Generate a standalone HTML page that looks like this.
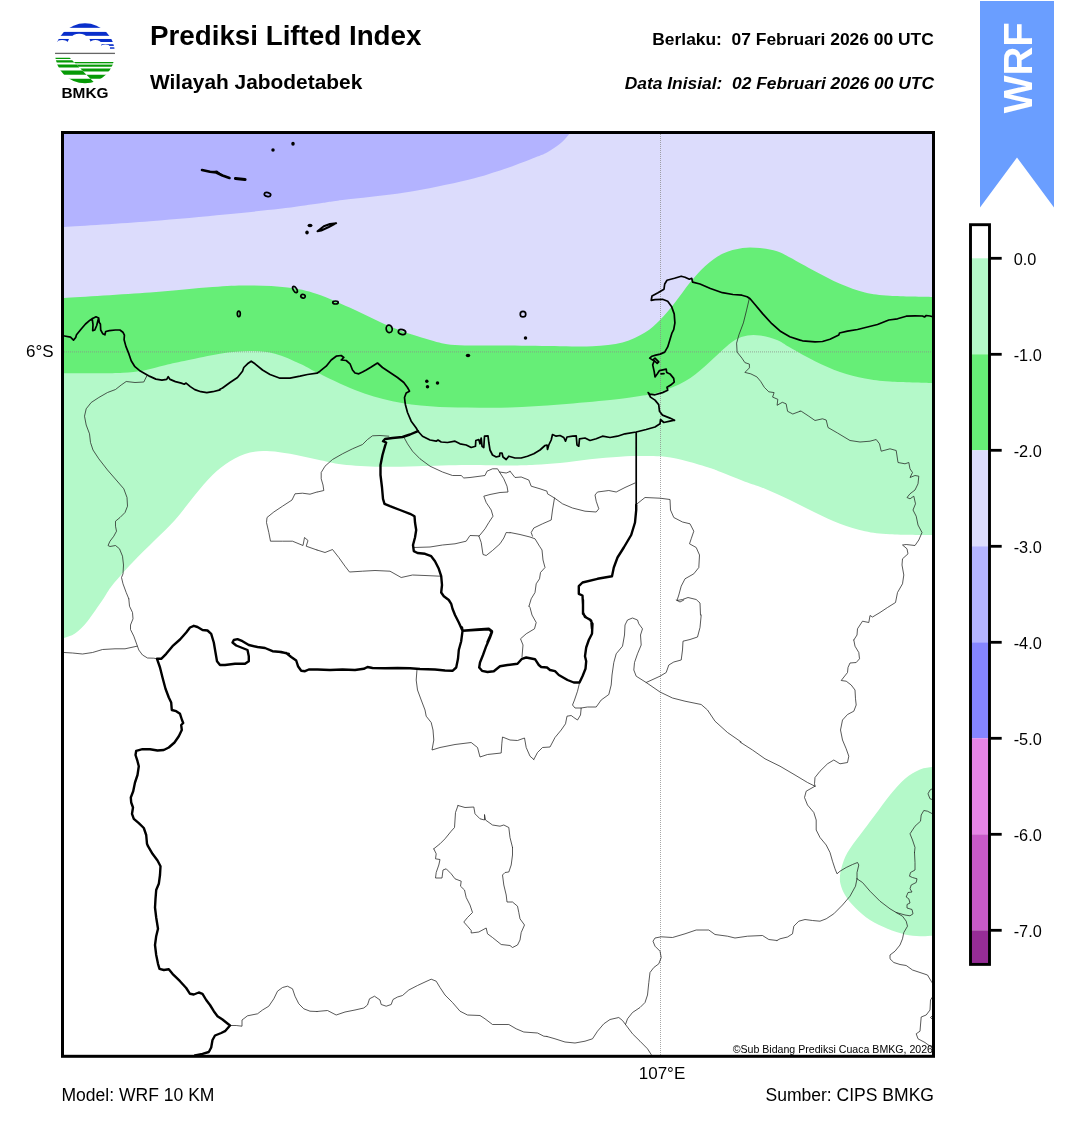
<!DOCTYPE html>
<html><head><meta charset="utf-8"><title>Prediksi Lifted Index</title>
<style>
html,body{margin:0;padding:0;background:#fff;}
body{width:1068px;height:1128px;overflow:hidden;position:relative;font-family:"Liberation Sans",Arial,sans-serif;}
svg{position:absolute;left:0;top:0;}
text{font-family:"Liberation Sans",Arial,sans-serif;fill:#000;}
.cbl{font-size:16.3px;}
.t1{font-size:27.75px;font-weight:bold;}
.t2{font-size:20.9px;font-weight:bold;}
.t3{font-size:17.42px;font-weight:bold;}
.t4{font-size:17.4px;font-weight:bold;font-style:italic;}
.ax{font-size:17px;}
.ft{font-size:17.55px;}
.cr{font-size:10.6px;}
.wrf{font-size:40px;font-weight:bold;fill:#fff;}
.bm{font-size:15.4px;font-weight:bold;}
</style></head><body>
<svg width="1068" height="1128" viewBox="0 0 1068 1128">
<defs><clipPath id="mapclip"><rect x="62.5" y="132.5" width="871" height="923.8"/></clipPath></defs>
<g clip-path="url(#mapclip)">
<rect x="62.5" y="132.5" width="871" height="923.8" fill="#dcdcfc"/>
<path d="M58.0,227.3 C59.0,227.2 48.7,228.0 64.0,227.0 C79.3,226.0 123.2,223.3 150.0,221.2 C176.8,219.2 203.3,216.6 225.0,214.5 C246.7,212.4 264.7,210.5 280.0,208.8 C295.3,207.0 306.6,205.2 317.0,203.8 C327.4,202.3 327.8,201.9 342.5,200.0 C357.2,198.1 384.2,195.8 405.0,192.5 C425.8,189.2 450.8,184.0 467.5,180.0 C484.2,176.0 493.8,172.5 505.0,168.8 C516.2,165.0 528.0,160.2 535.0,157.5 C542.0,154.8 542.8,154.8 547.0,152.5 C551.2,150.2 556.4,146.8 560.0,143.8 C563.6,140.8 566.9,136.8 568.8,134.5 C570.6,132.2 570.6,130.8 571.0,130.0 L60,130 Z" fill="#b3b3ff"/>
<path d="M58.0,298.3 C59.0,298.2 48.7,299.0 64.0,298.0 C79.3,297.0 125.2,294.3 150.0,292.5 C174.8,290.7 195.8,288.2 212.5,287.0 C229.2,285.8 237.5,285.4 250.0,285.5 C262.5,285.6 276.3,286.1 287.5,287.5 C298.7,288.9 305.8,290.2 317.0,294.0 C328.2,297.8 342.4,304.4 355.0,310.0 C367.6,315.6 380.0,322.5 392.5,327.5 C405.0,332.5 419.6,337.1 430.0,340.0 C440.4,342.9 442.5,344.1 455.0,345.0 C467.5,345.9 487.5,345.3 505.0,345.5 C522.5,345.7 545.4,346.1 560.0,346.2 C574.6,346.4 582.1,346.9 592.5,346.2 C602.9,345.6 613.8,344.8 622.5,342.5 C631.2,340.2 638.8,336.2 645.0,332.5 C651.2,328.8 655.0,325.0 660.0,320.0 C665.0,315.0 670.0,308.8 675.0,302.5 C680.0,296.2 685.0,288.5 690.0,282.5 C695.0,276.5 699.6,271.0 705.0,266.2 C710.4,261.5 716.2,256.8 722.5,253.8 C728.8,250.7 736.2,249.0 742.5,248.0 C748.8,247.0 754.2,247.5 760.0,248.0 C765.8,248.5 772.0,249.7 777.0,251.2 C782.0,252.8 783.7,254.2 790.0,257.5 C796.3,260.8 806.7,266.9 815.0,271.2 C823.3,275.6 831.7,280.2 840.0,283.8 C848.3,287.3 856.7,290.5 865.0,292.5 C873.3,294.5 878.8,295.0 890.0,295.8 C901.2,296.5 924.5,296.8 932.5,297.0 C940.5,297.2 937.1,297.0 938.0,297.0 L937,1060 L60,1060 Z" fill="#66ee77"/>
<path d="M58.0,373.2 C59.0,373.2 57.0,373.2 64.0,373.2 C71.0,373.2 90.2,373.3 100.0,373.2 C109.8,373.1 115.7,373.2 123.0,372.7 C130.3,372.2 137.0,371.6 144.0,370.4 C151.0,369.1 157.8,366.9 165.0,365.2 C172.2,363.5 178.3,362.2 187.5,360.3 C196.7,358.4 209.6,355.2 220.0,353.7 C230.4,352.1 240.8,351.0 250.0,351.0 C259.2,351.0 266.7,351.6 275.0,353.8 C283.3,355.9 293.0,360.6 300.0,363.8 C307.0,366.9 307.8,368.1 317.0,372.5 C326.2,376.9 342.4,385.2 355.0,390.0 C367.6,394.8 380.0,398.5 392.5,401.2 C405.0,404.0 417.5,405.2 430.0,406.2 C442.5,407.3 454.2,407.3 467.5,407.5 C480.8,407.7 494.6,408.0 510.0,407.5 C525.4,407.0 543.3,405.8 560.0,404.5 C576.7,403.2 596.7,401.4 610.0,400.0 C623.3,398.6 631.7,397.3 640.0,396.0 C648.3,394.7 652.5,394.5 660.0,392.0 C667.5,389.5 677.5,385.5 685.0,381.2 C692.5,377.0 698.8,371.5 705.0,366.2 C711.2,361.0 717.5,354.4 722.5,350.0 C727.5,345.6 730.8,342.4 735.0,340.0 C739.2,337.6 743.3,336.2 747.5,335.5 C751.7,334.8 755.1,334.8 760.0,335.5 C764.9,336.2 772.0,338.0 777.0,340.0 C782.0,342.0 783.7,344.0 790.0,347.5 C796.3,351.0 806.7,357.2 815.0,361.2 C823.3,365.3 831.7,369.1 840.0,372.0 C848.3,374.9 856.7,376.9 865.0,378.5 C873.3,380.1 878.8,380.8 890.0,381.5 C901.2,382.2 924.5,382.8 932.5,383.0 C940.5,383.2 937.1,383.0 938.0,383.0 L937,1060 L60,1060 Z" fill="#b4f9c9"/>
<path d="M58.0,640.5 C59.0,640.1 61.2,639.1 64.0,638.0 C66.8,636.9 71.1,636.4 75.0,633.6 C78.9,630.8 82.9,626.8 87.5,621.2 C92.1,615.6 98.3,606.0 102.5,600.0 C106.7,594.0 107.5,591.2 112.5,585.0 C117.5,578.8 125.4,570.0 132.5,562.5 C139.6,555.0 147.9,547.1 155.0,540.0 C162.1,532.9 168.3,527.5 175.0,520.0 C181.7,512.5 188.8,502.5 195.0,495.0 C201.2,487.5 206.7,480.6 212.5,475.0 C218.3,469.4 223.8,465.0 230.0,461.2 C236.2,457.5 243.3,454.2 250.0,452.5 C256.7,450.8 263.3,451.0 270.0,451.2 C276.7,451.5 282.2,452.4 290.0,453.8 C297.8,455.1 308.2,457.7 317.0,459.5 C325.8,461.3 332.0,463.3 342.5,464.5 C353.0,465.7 367.5,466.5 380.0,466.8 C392.5,467.0 402.9,466.5 417.5,466.2 C432.1,466.0 452.1,465.1 467.5,465.0 C482.9,464.9 498.8,465.6 510.0,465.5 C521.2,465.4 526.7,465.1 535.0,464.7 C543.3,464.3 550.8,463.9 560.0,463.0 C569.2,462.1 580.0,460.4 590.0,459.3 C600.0,458.2 611.3,457.2 620.0,456.7 C628.7,456.1 634.5,456.0 642.0,456.0 C649.5,456.0 657.5,455.8 665.0,456.7 C672.5,457.6 679.5,459.3 687.0,461.2 C694.5,463.1 704.5,466.2 710.0,468.0 C715.5,469.8 713.8,469.3 720.0,471.7 C726.2,474.1 740.0,479.7 747.5,482.5 C755.0,485.3 757.9,485.8 765.0,488.8 C772.1,491.7 781.7,496.0 790.0,500.0 C798.3,504.0 806.7,508.5 815.0,512.5 C823.3,516.5 831.7,520.6 840.0,523.8 C848.3,526.9 856.7,529.5 865.0,531.2 C873.3,533.0 878.8,533.6 890.0,534.2 C901.2,534.9 924.5,534.9 932.5,535.0 C940.5,535.1 937.1,535.0 938.0,535.0 L937,1060 L60,1060 Z" fill="#ffffff"/>
<path d="M938.0,766.5 C937.1,766.6 935.5,766.5 932.5,767.0 C929.5,767.5 924.6,767.5 920.0,769.5 C915.4,771.5 910.0,774.5 905.0,778.8 C900.0,783.0 895.0,789.0 890.0,795.0 C885.0,801.0 880.0,808.3 875.0,815.0 C870.0,821.7 864.6,828.8 860.0,835.0 C855.4,841.2 850.5,847.3 847.5,852.5 C844.5,857.7 843.2,862.1 842.0,866.0 C840.8,869.9 840.2,873.0 840.0,876.0 C839.8,879.0 839.7,880.8 840.5,884.0 C841.3,887.2 842.6,891.1 845.0,895.0 C847.4,898.9 850.8,903.3 855.0,907.5 C859.2,911.7 864.6,916.5 870.0,920.0 C875.4,923.5 881.7,926.3 887.5,928.8 C893.3,931.2 899.6,933.2 905.0,934.5 C910.4,935.8 915.4,936.0 920.0,936.2 C924.6,936.5 929.5,935.8 932.5,935.8 C935.5,935.7 937.1,935.7 938.0,935.7 Z" fill="#b4f9c9"/>
<line x1="660.5" y1="130" x2="660.5" y2="1058" stroke="#8a8a8a" stroke-width="1" stroke-dasharray="1,1" opacity="0.75"/>
<line x1="60" y1="351.9" x2="937" y2="351.9" stroke="#8a8a8a" stroke-width="1" stroke-dasharray="1,1" opacity="0.75"/>
<path d="M147.0,375.5 L143.8,382.0 L135.0,382.5 L126.2,381.5 L121.2,385.0 L115.5,389.5 L107.5,392.5 L98.8,397.5 L91.2,402.5 L86.2,408.8 L84.5,416.2 L86.2,425.0 L89.5,433.8 L90.5,442.5 L93.0,450.0 L98.8,458.8 L107.5,470.0 L116.2,480.0 L123.8,488.8 L127.0,497.5 L127.5,506.2 L125.0,512.5 L120.0,517.5 L115.5,521.2 L115.5,526.2 L116.5,531.2 L113.8,536.2 L110.0,541.2 L108.0,545.5 L110.0,546.5 L115.5,545.5 L119.5,548.8 L122.5,556.2 L123.5,565.0 L123.0,573.8 L121.5,577.5 L123.0,583.8 L126.2,592.5 L128.8,598.8 M128.8,598.8 L129.5,606.2 L132.5,612.5 L133.0,618.8 L130.5,625.0 L130.5,629.5 L133.8,636.2 L137.0,645.0 L138.8,650.0 L142.5,655.0 L147.5,658.0 L153.8,658.2 L157.0,658.8 M64.0,652.5 L72.5,653.0 L82.5,654.0 L92.5,652.5 L102.5,649.5 L115.0,648.8 L125.0,648.8 L137.0,646.2 M317.0,492.0 L310.0,494.2 L302.5,493.2 L295.0,493.8 L292.0,500.0 L282.5,506.2 L273.8,512.0 L267.0,517.5 L266.5,522.5 L268.8,532.5 L270.5,541.2 L282.5,541.2 L292.5,541.2 L303.0,545.5 L304.5,537.5 L308.0,540.5 L306.2,546.2 L317.0,550.0 M388.8,436.2 L380.0,435.5 L372.5,435.8 L367.5,439.5 L362.5,444.5 L352.5,448.8 L342.5,453.8 L332.5,459.5 L325.0,466.2 L321.2,472.5 L321.2,478.8 L323.0,485.0 L323.8,490.5 L317.5,492.0 M403.8,437.0 L407.5,443.8 L412.5,451.2 L420.0,458.8 L430.0,466.2 L442.5,472.0 L452.5,475.5 L461.2,475.5 L463.8,478.0 L470.0,477.5 L480.0,476.2 L485.0,475.5 L487.0,471.2 L492.5,468.8 L497.5,468.8 L499.5,472.0 L503.8,478.8 L507.0,486.2 L508.0,492.0 L500.0,492.5 L490.0,494.5 L483.8,496.2 L486.2,502.5 L491.2,510.0 L493.0,516.2 L488.8,522.5 L485.0,528.8 L480.0,535.0 L478.8,536.2 M499.5,472.0 L506.2,473.0 L510.0,471.5 M413.8,547.5 L430.0,547.0 L442.5,545.0 L455.0,543.8 L466.2,541.2 L470.0,535.5 L478.8,535.8 L481.2,542.5 L483.0,554.5 L486.2,555.5 L492.5,550.5 L500.0,543.8 L503.8,538.0 L506.2,532.5 L510.0,532.8 M317.0,550.0 L325.0,552.5 L332.5,549.5 L338.8,557.5 L345.0,566.2 L349.5,572.0 L362.5,571.2 L375.0,570.5 L390.0,571.2 L401.2,577.5 L412.5,575.0 L425.0,575.5 L440.0,576.2 M510.0,471.2 L515.0,477.5 L521.2,477.0 L528.8,480.0 L531.2,486.2 L540.0,488.8 L547.0,491.2 L547.5,493.8 L554.5,498.0 L562.5,503.8 L572.5,508.0 L585.0,511.2 L596.2,512.0 L598.8,508.8 L596.2,501.2 L595.0,495.0 L597.5,492.0 L608.8,490.5 L616.2,492.0 L625.0,487.5 L635.0,483.0 M554.5,498.0 L552.5,510.0 L551.2,520.0 L542.5,523.8 L533.8,528.0 L531.2,532.5 L532.5,536.2 M510.0,532.5 L520.0,534.5 L530.0,537.0 L535.0,538.8 L539.5,546.2 L542.0,550.0 L543.0,560.0 L545.0,567.5 L540.5,572.5 L539.5,578.8 L536.2,583.8 L535.0,592.5 L531.2,598.8 L529.0,606.2 M636.2,504.5 L645.0,497.5 L660.0,498.2 L670.0,499.5 L670.5,510.0 L673.8,517.5 L682.5,522.0 L690.0,523.8 L693.8,531.2 L691.2,538.8 L689.5,543.8 L696.2,547.5 L699.5,555.0 L698.8,567.5 L693.8,573.8 L685.0,578.8 L681.2,586.2 L678.8,595.0 L677.0,600.5 L682.5,599.5 L688.0,597.5 L696.2,599.5 L700.0,603.0 L700.5,615.0 M701.2,615.0 L700.0,627.5 L697.5,637.0 L690.0,639.5 L683.0,641.2 L682.5,650.0 L681.2,660.0 L673.8,662.0 L668.8,665.0 L666.2,672.5 L660.0,676.2 L646.2,682.5 M676.2,600.0 L680.0,602.0 L683.8,600.0 M749.4,298.2 L746.4,310.9 L743.4,322.9 L738.9,334.9 L736.6,343.1 L737.1,352.1 L741.9,358.1 L744.9,362.6 L749.4,364.1 L749.4,367.9 L744.9,372.4 L750.9,373.9 L756.9,376.9 L760.6,381.3 L764.3,387.3 L768.8,391.8 L774.1,392.6 L772.6,397.1 L777.8,399.3 L777.1,405.3 L782.3,402.3 L786.1,403.8 L787.6,411.3 L792.8,414.0 L800.0,411.3 M800.0,411.2 L801.2,411.2 L808.8,416.2 L815.0,420.5 L822.5,418.8 L826.2,420.0 L828.0,427.5 L837.5,433.0 L850.0,440.5 L860.0,442.0 L870.0,441.2 L876.2,439.5 L879.5,443.8 L881.2,451.2 L890.0,448.8 L896.2,450.5 L898.0,462.5 L905.0,463.8 L908.8,462.5 L910.0,468.8 L912.5,472.5 L910.0,477.5 L915.0,475.5 L918.8,476.2 L918.0,483.8 L915.0,490.0 L910.0,493.8 L907.0,497.5 L910.0,498.8 L913.8,496.2 L915.5,503.8 L913.0,510.0 L916.2,516.2 L918.0,525.0 L922.0,532.5 L918.8,540.0 L915.0,545.5 L906.2,544.5 L902.5,545.0 L907.0,548.8 L908.0,553.8 L902.5,558.8 L902.0,565.0 L903.8,575.0 L902.5,583.8 L897.5,592.5 L895.5,602.5 L887.5,607.5 L880.0,612.5 L872.5,617.0 L870.0,615.5 L868.8,622.5 L862.5,621.2 L857.5,628.8 L857.0,635.0 L853.8,640.0 M853.8,640.0 L855.0,646.2 L858.8,652.5 L859.5,658.8 L856.2,662.5 L850.0,663.0 L848.0,667.5 L847.5,672.5 L841.2,680.5 L846.2,681.2 L851.2,685.0 L855.0,690.0 L855.5,698.8 L856.2,705.0 L853.8,711.2 L847.5,714.5 L842.5,720.0 L840.5,730.0 L842.5,740.0 L846.2,748.8 L848.8,756.2 L847.5,762.5 L840.0,763.8 L833.8,760.0 L827.5,763.8 L820.0,771.2 L815.0,777.5 L814.5,783.8 L815.0,786.2 M740.0,742.0 L752.5,750.0 L765.0,758.8 L780.0,766.2 L795.0,775.0 L807.5,782.5 L815.0,786.2 M815.0,786.2 L806.2,791.2 L804.5,797.5 L807.5,805.0 L813.8,812.5 L816.2,820.0 L816.2,830.0 L820.0,837.5 L826.2,845.0 L830.0,852.5 L832.5,861.2 L835.0,868.8 L837.0,873.8 L840.0,871.2 L846.2,867.5 L852.5,864.5 L857.5,862.5 L858.8,865.0 L857.0,872.5 L857.0,878.8 M933.8,814.5 L927.5,811.2 L923.8,810.5 L921.2,815.0 L920.5,821.2 L915.0,826.2 L910.0,833.8 L912.5,840.0 L915.0,847.5 L914.5,852.5 M933.8,788.0 L930.0,790.0 L928.0,793.8 L930.0,798.8 L933.8,800.0 M417.0,669.5 L416.2,680.0 L417.5,690.0 L421.2,700.0 L425.0,710.0 L426.2,716.2 L431.2,722.5 L433.0,730.0 L433.8,740.0 L432.0,750.0 L440.0,747.5 L455.0,744.5 L471.2,742.5 L477.5,747.5 L480.0,757.0 L487.5,754.5 L501.2,753.0 L501.8,743.8 L502.5,737.0 L510.0,740.0 L517.5,740.5 L524.5,738.0 L526.2,747.5 L530.0,756.2 L533.8,759.5 M458.0,805.5 L465.0,807.5 L473.8,807.0 L475.0,813.8 L480.0,818.8 L484.5,820.0 L484.5,814.5 L485.5,820.0 L492.5,825.0 L500.0,826.2 L503.8,825.0 L508.8,827.5 L510.0,837.5 L512.5,847.5 M512.5,847.5 L512.5,855.0 L511.2,865.0 L508.8,872.0 L505.0,872.5 L502.5,875.0 L503.8,885.0 L506.2,895.0 L507.0,902.0 L512.5,902.0 L517.5,906.2 L518.8,912.5 L520.0,918.8 L524.5,925.0 L521.2,932.5 L520.0,940.0 L517.5,945.0 L512.5,947.5 L510.0,945.5 L501.2,944.5 L492.5,937.5 L487.5,933.8 L486.2,928.0 L478.8,932.0 L471.2,933.0 L471.2,930.5 L467.5,926.2 L463.8,922.0 L467.5,917.5 L472.5,912.5 L470.0,905.0 L466.2,897.5 L464.5,890.0 L460.5,886.2 L461.2,881.2 L455.0,878.8 L451.2,873.8 L446.2,868.8 L443.0,870.0 L442.0,878.0 L435.5,878.0 L436.2,872.5 L438.8,865.0 L440.0,859.5 L435.5,858.8 L436.2,853.8 L433.8,848.8 M458.0,805.5 L455.5,812.5 L455.0,820.0 L454.5,827.5 L451.2,831.2 L445.0,838.8 L440.0,843.8 L433.8,848.8 M529.0,606.2 L530.0,607.5 L532.0,615.0 L536.2,622.5 L534.5,628.8 L526.2,633.8 L520.5,638.8 L523.0,645.0 L522.0,657.0 M579.5,683.0 L577.5,691.2 L574.5,700.0 L572.5,705.0 L575.0,708.0 L581.2,708.0 L580.5,715.0 L577.5,720.0 L573.8,717.5 L571.2,715.5 L567.0,716.2 L565.5,723.8 L561.2,730.0 L555.0,737.5 L550.0,747.0 L542.5,747.5 L537.5,752.5 L533.8,759.5 M581.2,708.0 L587.5,707.0 L596.2,707.0 L601.2,700.0 L608.8,694.5 L611.2,685.0 L612.0,675.0 L613.8,662.5 L616.2,653.8 L622.5,646.2 L624.5,635.0 L625.0,625.0 L627.5,620.0 L632.5,618.0 L637.5,620.0 L638.8,623.8 L642.5,628.8 L640.5,635.0 L641.2,645.0 L637.5,653.8 L634.5,662.5 L633.8,670.0 L636.2,676.2 L646.2,682.5 L660.0,692.0 L672.5,698.0 L685.0,701.2 L701.2,704.5 L707.5,710.0 L715.0,721.2 L727.5,732.5 L741.2,742.0 M230.0,1025.5 L236.2,1025.5 L242.0,1026.2 L242.0,1020.0 L247.5,1015.8 L257.5,1013.8 L262.5,1010.0 L268.8,1006.2 L273.8,998.8 L277.5,991.2 L282.5,987.5 L287.5,986.2 L292.5,988.8 L295.0,996.2 L298.8,1003.8 L303.8,1008.8 L310.0,1011.2 L317.0,1011.5 M317.0,1011.5 L320.0,1011.2 L327.5,1010.5 L336.2,1015.0 L345.0,1012.0 L355.0,1010.0 L363.8,1008.0 L367.5,1005.0 L369.5,998.8 L374.5,996.2 L380.0,1000.0 L381.2,1004.5 L386.2,1006.2 L391.2,1004.5 L393.0,999.5 L397.5,997.0 L402.5,995.5 L408.8,990.0 L417.5,985.5 L425.0,982.0 L431.2,979.2 L436.2,981.2 L440.0,987.5 L445.0,995.0 L452.5,1002.5 L460.0,1011.2 L467.5,1015.0 L480.0,1015.5 L485.0,1018.8 L492.5,1024.5 L508.8,1024.5 L516.2,1028.8 L523.8,1032.0 L537.5,1033.0 L543.8,1036.2 L547.0,1036.5 M547.0,1036.5 L555.0,1038.8 L565.0,1042.0 L575.0,1043.0 L585.0,1041.2 L592.5,1038.8 L597.5,1031.2 L603.8,1023.8 L610.0,1019.5 L618.8,1017.5 L622.5,1020.5 L625.5,1024.5 L632.5,1033.8 L640.0,1041.2 L647.5,1048.8 L651.2,1054.5 L652.5,1057.5 M625.5,1024.5 L627.5,1018.8 L632.5,1012.5 L640.0,1007.5 L645.0,1002.5 L647.5,995.0 L648.8,982.5 L650.0,972.5 L653.8,967.5 L658.8,963.8 L661.2,957.5 L660.0,951.2 L655.0,946.2 L653.0,941.2 L655.0,938.0 L661.2,936.8 L672.5,937.5 L685.0,933.8 L696.2,930.0 L708.8,930.0 L715.0,934.5 L727.5,936.2 L735.0,938.0 L747.5,936.2 L762.5,935.5 L768.8,939.5 L777.0,940.5 M777.0,940.5 L780.0,938.8 L787.5,937.0 L792.5,933.8 L793.8,926.2 L798.8,921.2 L805.0,919.5 L812.5,920.5 L820.0,921.2 L826.2,918.8 L833.8,913.8 L842.5,905.0 L850.0,896.2 L855.5,886.2 L857.0,878.8 M857.0,878.8 L862.5,882.5 L870.0,891.2 L880.0,901.2 L890.0,908.8 L896.2,912.5 L902.5,916.2 L906.2,921.2 L907.5,926.2 L903.8,932.5 L902.5,938.8 L900.0,945.0 L895.0,951.2 L890.0,955.0 L890.0,958.8 L893.8,962.5 L900.0,964.5 L906.2,965.5 L912.5,970.0 L920.0,972.5 L927.5,975.0 L931.2,981.2 L933.8,985.0 M896.2,912.5 L905.0,915.0 L910.0,915.8 L913.0,913.8 L912.0,909.5 L907.0,908.0 L907.0,904.5 L910.0,903.0 L908.8,898.8 L906.2,897.0 L908.0,892.5 L912.0,892.0 L910.0,888.8 L911.2,885.0 L916.2,882.5 L917.0,878.8 L912.5,877.5 L909.5,876.2 L910.5,872.5 L915.0,870.0 L915.0,862.5 L914.5,852.5 M933.8,995.0 L930.5,1000.0 L930.0,1010.0 L926.2,1015.0 L921.2,1017.0 L920.5,1025.0 L920.0,1031.2 L916.2,1033.8 L918.0,1038.8 L925.0,1042.5 L930.0,1046.2 L933.8,1049.5 M933.8,1014.5 L930.5,1017.5 L933.8,1020.5" fill="none" stroke="#222" stroke-width="0.75" stroke-linejoin="round" stroke-linecap="round"/>
<path d="M60.0,335.4 L64.5,336.0 L70.5,337.2 L73.5,340.1 L75.7,337.5 L76.5,334.8 L81.0,329.2 L85.5,324.0 L90.0,320.2 L92.2,318.7 L96.0,316.8 L98.7,318.0 L99.3,322.5 L100.4,324.0 L100.7,330.0 L102.7,333.7 L104.9,334.8 L105.7,331.5 L109.4,330.7 L115.4,330.0 L119.9,330.0 L122.9,332.2 L124.4,335.2 L124.1,339.7 L125.9,346.4 L128.9,353.9 L131.2,360.7 L134.9,366.7 L139.4,370.4 L144.6,373.4 L149.9,376.4 L155.9,379.1 L161.9,380.1 L166.7,379.4 L168.2,376.7 L170.1,379.4 L175.4,381.6 L181.3,383.1 L184.3,384.2 L186.1,383.1 L190.3,386.6 L194.8,389.6 L200.8,391.7 L206.8,392.6 L212.8,391.7 L220.0,389.9 M92.2,318.7 L93.0,324.7 L92.7,330.7 L94.8,330.0 L96.7,325.5 L97.8,321.0 L98.7,318.0 M220.0,389.2 L222.5,388.0 L230.0,382.5 L237.5,377.5 L242.5,371.2 L243.8,367.5 L247.5,363.8 L251.2,361.2 L255.0,363.8 L262.5,370.0 L270.0,374.5 L280.0,378.2 L290.0,378.2 L300.0,376.2 L307.5,374.5 L317.0,373.2 M317.0,373.2 L320.0,371.2 L326.2,366.2 L331.2,360.0 L336.2,356.2 L341.2,355.5 L343.8,357.5 L341.2,360.0 L346.2,360.5 L350.0,363.8 L352.5,370.0 L355.0,373.0 L358.8,373.8 L362.5,372.0 L366.2,370.0 L371.2,367.0 L377.5,363.0 L382.5,367.5 L390.0,372.5 L397.5,377.5 L403.8,382.5 L407.5,387.5 L409.5,391.2 L406.2,393.0 L404.5,397.5 L405.0,402.0 M405.0,402.0 L405.5,405.0 L407.5,412.5 L411.2,421.2 L416.2,428.0 L418.0,431.2 L422.5,436.2 L430.0,440.0 L436.2,441.2 L438.0,440.0 L441.2,442.0 L447.5,442.5 L455.0,441.2 L460.0,443.8 L466.2,445.0 L471.2,447.5 L475.5,446.2 L475.8,440.5 L478.8,439.5 L480.0,443.8 L481.2,438.0 L482.0,446.2 L483.8,447.5 L484.5,436.2 L488.0,435.8 L488.8,442.5 L490.0,450.0 L492.5,455.0 L496.2,457.0 L499.5,456.2 L500.0,453.0 L502.0,453.0 L503.0,457.0 L506.2,459.5 L508.8,456.2 L515.0,458.0 L521.2,458.0 L527.5,456.2 L533.8,453.8 L540.0,450.0 L545.0,445.5 L547.0,445.0 M547.0,445.0 L547.5,449.5 L548.8,445.0 L551.2,440.0 L552.5,434.5 L556.2,436.2 L560.0,435.5 L563.8,437.5 L565.5,441.2 L567.0,437.0 L572.5,436.2 L576.2,435.8 L577.0,445.0 L578.8,446.2 L579.5,438.8 L585.0,438.0 L590.0,440.5 L596.2,438.8 L602.5,436.2 L610.0,437.5 L617.5,436.2 L625.0,433.8 L636.2,432.0 L646.2,429.5 L655.0,427.0 L660.0,423.8 L660.5,419.5 L663.8,422.5 L670.0,421.2 L674.5,420.2 M674.5,420.3 L670.0,418.1 L662.5,415.1 L659.5,411.3 L658.7,404.6 L655.0,400.1 L650.5,397.1 L648.2,392.6 L649.7,394.1 L655.0,394.8 L662.5,392.6 L667.7,390.3 L667.0,387.3 L670.7,385.1 L674.2,382.1 L673.7,378.4 L670.0,373.9 L666.7,372.4 L666.2,369.1 L659.5,370.6 L657.2,373.9 L655.0,376.9 L654.2,371.6 L652.7,364.9 L654.2,360.7 L657.2,363.4 L658.7,361.9 L655.0,358.1 L652.7,360.1 L649.7,358.1 L652.0,356.2 L655.7,355.1 L660.2,354.1 L664.7,352.1 L667.7,346.9 L670.0,339.4 L671.8,333.4 L673.7,329.7 L674.9,322.9 L674.2,313.9 L671.5,306.4 L667.7,301.2 L662.5,299.3 L655.0,299.7 L651.2,300.4 L652.0,296.0 L658.0,292.7 L664.0,289.2 L664.7,284.0 L667.0,280.2 L674.5,278.3 L681.2,276.2 L685.0,277.2 L689.4,279.2 L691.7,278.3 L692.7,282.2 L700.0,284.0 L710.4,288.5 L722.4,292.7 L732.9,294.5 L741.9,295.2 L747.1,296.7 L750.1,298.7 L755.4,305.0 L762.8,313.9 L771.8,323.7 L780.8,331.6 L789.8,336.7 L800.0,340.1 M661.0,373.9 L664.0,373.6 M800.0,340.1 L802.5,340.8 L815.0,341.8 L822.5,341.5 L830.0,339.2 L838.8,335.0 L839.5,333.0 L847.5,331.2 L857.5,329.5 L867.5,327.0 L877.5,324.5 L888.8,320.0 L897.5,318.8 L906.2,316.2 L915.0,315.8 L922.5,316.0 L924.5,317.0 L926.2,315.5 L930.0,316.0 L933.8,317.0 M636.2,432.0 L636.2,447.5 L636.2,472.5 L636.2,497.5 L636.2,506.2" fill="none" stroke="#000" stroke-width="1.7" stroke-linejoin="round" stroke-linecap="round"/>
<path d="M418.0,431.2 L410.0,434.5 L402.5,437.0 L392.5,438.0 L385.0,439.0 L383.0,441.2 L386.2,442.5 L385.0,446.2 L382.5,455.0 L380.5,465.0 L380.5,475.0 L382.0,487.5 L383.0,498.8 L384.5,503.8 L390.0,506.2 L400.0,510.0 L410.0,513.8 L414.5,516.2 L415.0,522.5 L416.2,530.0 L415.0,537.5 L413.0,545.0 L413.8,551.2 L417.5,553.0 L425.0,553.8 L431.2,556.2 L435.0,561.2 L438.8,568.8 L441.2,576.2 L442.0,585.0 L441.2,592.5 L443.8,596.2 L448.8,600.0 L451.2,603.8 L452.5,608.8 L455.0,615.0 L458.8,622.5 L462.5,630.8 M462.5,630.8 L477.5,629.5 L488.8,628.8 L492.0,631.2 L490.0,636.2 L487.5,642.0 M280.0,652.0 L286.2,653.0 L291.2,657.0 L296.2,660.5 L298.0,666.2 L301.2,670.8 L305.0,671.2 L308.8,669.5 L317.5,669.5 L330.0,670.0 L342.5,669.5 L355.0,670.0 L363.8,668.8 L367.5,667.0 L372.5,668.0 L385.0,668.2 L397.5,668.0 L410.0,668.2 L420.0,669.0 L435.0,669.5 L445.0,670.5 L452.5,670.8 L456.2,667.5 L458.0,658.8 L458.8,650.0 L461.2,641.2 L462.5,631.2 L462.0,627.5 M462.5,630.8 L475.0,630.0 L488.8,629.2 L492.0,632.0 L490.0,637.5 L486.2,646.2 L483.0,655.0 L480.0,662.5 L479.2,667.5 L482.0,670.8 L487.5,672.0 L493.8,671.2 L500.0,666.2 L507.5,665.0 L517.5,663.8 L522.0,658.8 L526.2,657.5 L535.0,659.2 L538.8,665.0 L541.2,667.0 L547.0,667.5 M547.0,667.5 L550.0,670.0 L555.0,671.2 L558.8,675.0 L567.5,680.0 L573.8,682.5 L579.5,682.5 L582.5,676.2 L585.5,668.8 L586.2,661.2 L585.0,656.2 L586.2,647.5 L588.8,640.0 L592.0,633.8 L592.5,623.8 L590.0,619.5 L585.0,617.0 L583.0,612.5 L583.0,600.0 M636.2,505.0 L636.2,510.0 L635.0,522.5 L631.2,535.0 L623.8,547.5 L617.5,557.5 L613.8,567.5 L612.0,576.2 L597.5,578.8 L582.5,582.5 L578.8,586.2 L578.8,593.8 L582.5,595.5 L583.0,605.0 L583.0,613.8 L586.2,617.5 L591.2,620.5 L592.0,628.8 M157.0,658.8 L161.2,658.8 L166.2,653.8 L172.5,646.2 L180.0,639.5 L186.2,632.5 L190.0,627.5 L193.8,625.8 L197.5,627.0 L202.5,630.0 L207.5,630.5 L211.2,633.8 L213.8,642.5 L215.5,652.5 L217.0,661.2 L220.0,665.0 L225.0,665.0 L235.0,663.8 L245.0,663.8 L248.8,661.2 L248.8,656.2 L247.5,650.0 L242.5,648.0 L236.2,645.5 L232.5,642.5 L233.8,640.0 L237.5,639.2 L242.5,641.2 L248.8,645.0 L257.5,647.0 L265.0,648.0 L272.5,651.2 L281.2,652.0 L288.8,653.8 M157.0,658.8 L160.0,667.5 L162.5,677.5 L165.5,688.8 L168.8,697.5 L171.2,702.5 L171.8,710.0 L176.2,711.2 L180.0,713.8 L182.0,720.0 L183.2,723.0 L181.2,725.0 L181.8,730.0 L178.8,736.2 L174.5,742.5 L168.8,747.5 L163.8,750.0 L157.5,750.5 L150.0,749.2 L142.5,749.2 L136.2,750.8 L135.5,755.0 L137.5,761.2 L138.8,766.2 L137.5,775.0 L135.0,782.5 L133.2,791.2 L130.8,797.5 L131.2,802.5 L133.0,807.5 L132.0,813.8 L133.8,818.8 L138.8,823.2 L143.8,828.0 L146.2,835.0 L147.0,843.8 M147.0,843.8 L148.0,846.2 L152.5,853.8 L157.5,860.5 L160.5,866.2 L160.0,875.0 L158.8,883.8 L156.2,890.0 L155.5,898.8 L155.0,907.5 L156.2,917.5 L158.0,928.8 L156.2,936.2 L155.0,945.0 L156.2,955.0 L158.0,963.8 L159.5,968.8 L163.8,970.0 L168.8,969.2 L172.5,973.8 L180.0,981.2 L186.2,988.0 L190.0,993.8 L193.8,994.5 L198.8,992.5 L202.5,993.8 L206.2,1000.0 L210.0,1005.0 L213.8,1011.2 L217.5,1016.2 L222.5,1019.5 L230.0,1025.5 L225.0,1031.2 L221.2,1033.0 L215.0,1035.5 L212.5,1040.0 L211.2,1047.5 L208.8,1052.0 L202.5,1053.8 L195.0,1055.5" fill="none" stroke="#000" stroke-width="2.4" stroke-linejoin="round" stroke-linecap="round"/>
<path d="M317.5,231.2 L323.8,226.2 L330.0,224.0 L336.2,223.2 L328.8,227.0 L321.2,230.5 L317.5,231.2" fill="none" stroke="#000" stroke-width="2" stroke-linejoin="round" stroke-linecap="round"/>
<path d="M202.0,170.0 L210.0,171.8 L216.2,172.5 L222.5,175.5 L229.5,178.0" fill="none" stroke="#000" stroke-width="2.6" stroke-linejoin="round" stroke-linecap="round"/>
<path d="M235.5,178.5 L245.0,179.5" fill="none" stroke="#000" stroke-width="3.2" stroke-linejoin="round" stroke-linecap="round"/>
<path d="M210.0,171.8 L217.0,171.2 L222.5,175.5" fill="none" stroke="#000" stroke-width="1.2" stroke-linejoin="round" stroke-linecap="round"/>
<ellipse cx="273.0" cy="150.0" rx="1.75" ry="1.75" fill="#000"/>
<ellipse cx="293.0" cy="143.8" rx="1.75" ry="2.00" fill="#000"/>
<ellipse cx="267.5" cy="194.5" rx="3.25" ry="2.00" fill="none" stroke="#000" stroke-width="1.7" transform="rotate(15 267.5 194.5)"/>
<ellipse cx="238.8" cy="313.8" rx="1.50" ry="2.75" fill="none" stroke="#000" stroke-width="1.7" transform="rotate(0 238.8 313.8)"/>
<ellipse cx="310.0" cy="225.5" rx="2.50" ry="1.75" fill="#000"/>
<ellipse cx="307.0" cy="232.5" rx="1.75" ry="2.00" fill="#000"/>
<ellipse cx="295.0" cy="289.5" rx="1.75" ry="3.50" fill="none" stroke="#000" stroke-width="1.7" transform="rotate(-30 295.0 289.5)"/>
<ellipse cx="303.0" cy="296.2" rx="2.25" ry="1.75" fill="none" stroke="#000" stroke-width="1.7" transform="rotate(20 303.0 296.2)"/>
<ellipse cx="335.5" cy="302.5" rx="2.75" ry="1.50" fill="none" stroke="#000" stroke-width="1.7" transform="rotate(0 335.5 302.5)"/>
<ellipse cx="389.2" cy="328.8" rx="3.00" ry="3.75" fill="none" stroke="#000" stroke-width="1.7" transform="rotate(-10 389.2 328.8)"/>
<ellipse cx="402.0" cy="332.0" rx="3.75" ry="2.50" fill="none" stroke="#000" stroke-width="1.7" transform="rotate(15 402.0 332.0)"/>
<ellipse cx="523.0" cy="314.2" rx="2.75" ry="2.75" fill="none" stroke="#000" stroke-width="1.7" transform="rotate(0 523.0 314.2)"/>
<ellipse cx="525.5" cy="338.0" rx="1.75" ry="1.75" fill="#000"/>
<ellipse cx="468.0" cy="355.5" rx="2.25" ry="1.75" fill="#000"/>
<ellipse cx="426.8" cy="381.2" rx="1.75" ry="1.75" fill="#000"/>
<ellipse cx="427.5" cy="386.8" rx="1.75" ry="1.75" fill="#000"/>
<ellipse cx="437.5" cy="383.0" rx="1.75" ry="1.75" fill="#000"/>
</g>
<rect x="62.5" y="132.5" width="871" height="923.8" fill="none" stroke="#000" stroke-width="3"/>
<!-- ribbon -->
<path d="M980,1 L1054,1 L1054,207.6 L1017,157.6 L980,207.6 Z" fill="#6a9eff"/>
<text class="wrf" transform="translate(1031.8,113.3) rotate(-90)">WRF</text>
<!-- colorbar -->
<rect x="971" y="225" width="18" height="33.3" fill="#ffffff"/>
<rect x="971" y="258.3" width="18" height="96" fill="#b4f9c9"/>
<rect x="971" y="354.3" width="18" height="96" fill="#66ee77"/>
<rect x="971" y="450.3" width="18" height="96" fill="#dcdcfc"/>
<rect x="971" y="546.3" width="18" height="96" fill="#b3b3ff"/>
<rect x="971" y="642.3" width="18" height="96" fill="#8585ff"/>
<rect x="971" y="738.3" width="18" height="96" fill="#e685e6"/>
<rect x="971" y="834.3" width="18" height="96" fill="#c85ac8"/>
<rect x="971" y="930.3" width="18" height="33.7" fill="#962d96"/>
<rect x="970.5" y="224.7" width="19" height="739.7" fill="none" stroke="#000" stroke-width="2.9"/>
<line x1="990" y1="258.3" x2="1001.7" y2="258.3" stroke="#000" stroke-width="2.8"/>
<text x="1013.7" y="264.8" class="cbl">0.0</text>
<line x1="990" y1="354.3" x2="1001.7" y2="354.3" stroke="#000" stroke-width="2.8"/>
<text x="1013.7" y="360.8" class="cbl">-1.0</text>
<line x1="990" y1="450.3" x2="1001.7" y2="450.3" stroke="#000" stroke-width="2.8"/>
<text x="1013.7" y="456.8" class="cbl">-2.0</text>
<line x1="990" y1="546.3" x2="1001.7" y2="546.3" stroke="#000" stroke-width="2.8"/>
<text x="1013.7" y="552.8" class="cbl">-3.0</text>
<line x1="990" y1="642.3" x2="1001.7" y2="642.3" stroke="#000" stroke-width="2.8"/>
<text x="1013.7" y="648.8" class="cbl">-4.0</text>
<line x1="990" y1="738.3" x2="1001.7" y2="738.3" stroke="#000" stroke-width="2.8"/>
<text x="1013.7" y="744.8" class="cbl">-5.0</text>
<line x1="990" y1="834.3" x2="1001.7" y2="834.3" stroke="#000" stroke-width="2.8"/>
<text x="1013.7" y="840.8" class="cbl">-6.0</text>
<line x1="990" y1="930.3" x2="1001.7" y2="930.3" stroke="#000" stroke-width="2.8"/>
<text x="1013.7" y="936.8" class="cbl">-7.0</text>
<!-- logo -->
<defs><clipPath id="lgclip"><circle cx="534" cy="538.6" r="457"/></clipPath></defs>
<g transform="translate(50,18) scale(0.06554)">
<g clip-path="url(#lgclip)">
<rect x="0" y="60" width="1068" height="90" fill="#0a2fcb"/>
<rect x="0" y="212" width="1068" height="60" fill="#0a2fcb"/>
<rect x="0" y="320" width="1068" height="46" fill="#0a2fcb"/>
<rect x="785" y="400" width="300" height="26" fill="#0a2fcb"/>
<rect x="915" y="447" width="200" height="22" fill="#0a2fcb"/>
<ellipse cx="445" cy="295" rx="112" ry="55" fill="#fff"/>
<path d="M292,318 L600,318 L622,368 L268,368 Z" fill="#fff"/>
<ellipse cx="185" cy="378" rx="88" ry="44" fill="#fff"/>
<ellipse cx="692" cy="381" rx="88" ry="44" fill="#fff"/>
<ellipse cx="845" cy="434" rx="62" ry="30" fill="#fff"/>
<rect x="0" y="366" width="775" height="40" fill="#fff"/>
<rect x="0" y="530" width="1068" height="20" fill="#666"/>
<path d="M0,605 L300,605 L320,625 L0,625 Z" fill="#069a06"/>
<path d="M0,645 L339,645 L372,678 L0,678 Z" fill="#069a06"/>
<path d="M0,710 L404,710 L448,755 L0,755 Z" fill="#069a06"/>
<path d="M0,800 L492,800 L556,865 L0,865 Z" fill="#069a06"/>
<path d="M0,928 L618,928 L699,1010 L0,1010 Z" fill="#069a06"/>
<path d="M366,672 L1068,672 L1068,690 L384,690 Z" fill="#069a06" opacity="1"/>
<path d="M392,698 L1068,698 L1068,710 L404,710 Z" fill="#069a06" opacity="0.45"/>
<path d="M408,715 L1068,715 L1068,742 L435,742 Z" fill="#069a06" opacity="1"/>
<path d="M463,770 L1068,770 L1068,818 L510,818 Z" fill="#069a06" opacity="1"/>
<path d="M556,865 L1068,865 L1068,926 L617,926 Z" fill="#069a06" opacity="1"/>
</g></g>
<text x="61.5" y="98" class="bm">BMKG</text>
<!-- titles -->
<text x="150" y="45" class="t1">Prediksi Lifted Index</text>
<text x="150" y="89" class="t2">Wilayah Jabodetabek</text>
<text x="933.8" y="45" class="t3" text-anchor="end" xml:space="preserve">Berlaku:  07 Februari 2026 00 UTC</text>
<text x="934" y="89" class="t4" text-anchor="end" xml:space="preserve">Data Inisial:  02 Februari 2026 00 UTC</text>
<text x="26" y="357" class="ax">6°S</text>
<text x="662" y="1079" class="ax" text-anchor="middle">107°E</text>
<text x="61.5" y="1101" class="ft">Model: WRF 10 KM</text>
<text x="934" y="1101" class="ft" text-anchor="end">Sumber: CIPS BMKG</text>
<text x="933" y="1052.8" class="cr" text-anchor="end">©Sub Bidang Prediksi Cuaca BMKG, 2026</text>
</svg>
</body></html>
